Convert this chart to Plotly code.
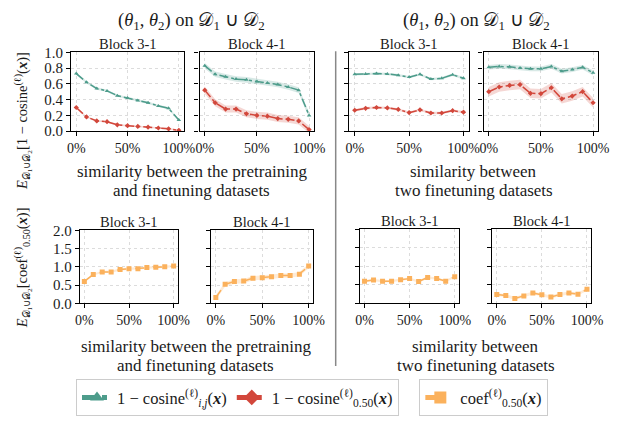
import plotly.graph_objects as go

W, H = 621, 423
x_pct = [0, 10, 20, 30, 40, 50, 60, 70, 80, 90, 100]

# top row: 1 - cosine
cos_ij_pre_b3 = [0.73, 0.62, 0.54, 0.51, 0.45, 0.42, 0.39, 0.36, 0.32, 0.29, 0.14]
cos_50_pre_b3 = [0.30, 0.18, 0.13, 0.12, 0.08, 0.07, 0.06, 0.05, 0.04, 0.03, 0.01]
cos_ij_pre_b4 = [0.83, 0.72, 0.69, 0.66, 0.65, 0.63, 0.61, 0.59, 0.56, 0.52, 0.20]
cos_50_pre_b4 = [0.52, 0.36, 0.28, 0.28, 0.22, 0.20, 0.19, 0.16, 0.15, 0.13, 0.02]
cos_ij_ft_b3 = [0.72, 0.725, 0.73, 0.725, 0.71, 0.685, 0.72, 0.66, 0.67, 0.715, 0.67]
cos_50_ft_b3 = [0.265, 0.29, 0.30, 0.295, 0.275, 0.235, 0.27, 0.23, 0.23, 0.26, 0.24]
cos_ij_ft_b4 = [0.81, 0.82, 0.815, 0.80, 0.79, 0.79, 0.82, 0.76, 0.78, 0.81, 0.74]
cos_50_ft_b4 = [0.50, 0.56, 0.58, 0.59, 0.48, 0.475, 0.55, 0.41, 0.445, 0.50, 0.36]

# bottom row: coef
coef_pre_b3 = [0.60, 0.79, 0.86, 0.86, 0.93, 0.95, 0.95, 0.98, 0.99, 1.00, 1.02]
coef_pre_b4 = [0.16, 0.52, 0.60, 0.61, 0.69, 0.70, 0.73, 0.76, 0.76, 0.80, 1.02]
coef_ft_b3 = [0.60, 0.63, 0.60, 0.60, 0.64, 0.67, 0.59, 0.70, 0.67, 0.60, 0.72]
coef_ft_b4 = [0.24, 0.21, 0.13, 0.20, 0.28, 0.23, 0.17, 0.24, 0.28, 0.25, 0.38]

# band half-widths
band_ij_pre_b3, band_50_pre_b3 = 0.015, 0.01
band_ij_pre_b4, band_50_pre_b4 = 0.035, 0.045
band_ij_ft_b3, band_50_ft_b3 = 0.015, 0.015
band_ij_ft_b4, band_50_ft_b4 = 0.03, 0.06
band_coef_pre_b3, band_coef_pre_b4 = 0.03, 0.06
band_coef_ft_b3, band_coef_ft_b4 = 0.03, 0.04

TEAL = "#4d9c8b"
RED = "#d2473b"
ORANGE = "#fbb15c"
TEAL_F = "rgba(77,156,139,0.22)"
RED_F = "rgba(210,71,59,0.22)"
ORANGE_F = "rgba(251,177,92,0.25)"

FONT = "Liberation Serif"

fig = go.Figure()

def py(p):
    return 1 - p / H

def px(p):
    return p / W

# panels: (axis index, x-domain px, y-domain px(top,bottom))
panels = [
    (1, (68, 184), (46, 128)),
    (2, (200, 318), (46, 128)),
    (3, (354, 477), (46, 128)),
    (4, (492, 610), (46, 128)),
    (5, (77, 178), (231, 307)),
    (6, (212, 317), (231, 307)),
    (7, (365, 467), (230, 307)),
    (8, (501, 603), (230, 307)),
]

def add_series(idx, y, band, color, fill, symbol, dash, name, legend, showleg, msize=4):
    xa = "x" if idx == 1 else f"x{idx}"
    ya = "y" if idx == 1 else f"y{idx}"
    up = [v + band for v in y]
    lo = [v - band for v in y]
    fig.add_trace(go.Scatter(x=x_pct, y=up, mode="lines", line=dict(width=0),
                             hoverinfo="skip", showlegend=False, xaxis=xa, yaxis=ya))
    fig.add_trace(go.Scatter(x=x_pct, y=lo, mode="lines", line=dict(width=0), fill="tonexty",
                             fillcolor=fill, hoverinfo="skip", showlegend=False, xaxis=xa, yaxis=ya))
    fig.add_trace(go.Scatter(x=x_pct, y=y, mode="lines+markers", name=name,
                             line=dict(color=color, width=1.5, dash=dash),
                             marker=dict(symbol=symbol, size=msize, color=color),
                             showlegend=showleg, legend=legend, xaxis=xa, yaxis=ya))

cos_name_ij = "1 − cosine<sup>(ℓ)</sup><sub><i>i,j</i></sub>(<b><i>x</i></b>)"
cos_name_50 = "1 − cosine<sup>(ℓ)</sup><sub>0.50</sub>(<b><i>x</i></b>)"
coef_name = "coef<sup>(ℓ)</sup><sub>0.50</sub>(<b><i>x</i></b>)"

top_data = [
    (1, cos_ij_pre_b3, band_ij_pre_b3, cos_50_pre_b3, band_50_pre_b3),
    (2, cos_ij_pre_b4, band_ij_pre_b4, cos_50_pre_b4, band_50_pre_b4),
    (3, cos_ij_ft_b3, band_ij_ft_b3, cos_50_ft_b3, band_50_ft_b3),
    (4, cos_ij_ft_b4, band_ij_ft_b4, cos_50_ft_b4, band_50_ft_b4),
]
for idx, yij, bij, y50, b50 in top_data:
    add_series(idx, yij, bij, TEAL, TEAL_F, "triangle-up", "dashdot", cos_name_ij, "legend", idx == 1)
    add_series(idx, y50, b50, RED, RED_F, "diamond", "dashdot", cos_name_50, "legend", idx == 1)

bot_data = [
    (5, coef_pre_b3, band_coef_pre_b3),
    (6, coef_pre_b4, band_coef_pre_b4),
    (7, coef_ft_b3, band_coef_ft_b3),
    (8, coef_ft_b4, band_coef_ft_b4),
]
for idx, yc, bc in bot_data:
    add_series(idx, yc, bc, ORANGE, ORANGE_F, "square", "dash", coef_name, "legend2", idx == 5, msize=5)

layout = {}
for idx, (x0, x1), (t, b) in panels:
    xk = "xaxis" if idx == 1 else f"xaxis{idx}"
    yk = "yaxis" if idx == 1 else f"yaxis{idx}"
    ya = "y" if idx == 1 else f"y{idx}"
    xa = "x" if idx == 1 else f"x{idx}"
    top_row = idx <= 4
    layout[xk] = dict(domain=[px(x0), px(x1)], anchor=ya, range=[-5, 105],
                      tickvals=[0, 50, 100], ticktext=["0%", "50%", "100%"],
                      showline=True, mirror=True, linecolor="black", linewidth=1.2,
                      ticks="outside", ticklen=4, tickcolor="black",
                      showgrid=True, gridcolor="#dcdcdc", griddash="dot", gridwidth=1,
                      zeroline=False, tickfont=dict(family=FONT, size=14, color="#1a1a1a"))
    layout[yk] = dict(domain=[py(b), py(t)], anchor=xa,
                      range=[0, 1.0] if top_row else [0, 2.0],
                      tickvals=[0, 0.2, 0.4, 0.6, 0.8, 1.0] if top_row else [0, 0.5, 1.0, 1.5, 2.0],
                      tickformat=".1f",
                      showticklabels=idx in (1, 5),
                      showline=True, mirror=True, linecolor="black", linewidth=1.2,
                      ticks="outside", ticklen=4, tickcolor="black",
                      showgrid=True, gridcolor="#dcdcdc", griddash="dot", gridwidth=1,
                      zeroline=False, tickfont=dict(family=FONT, size=15, color="#1a1a1a"))

annotations = []
def ann(text, x, y, size=14, angle=0):
    annotations.append(dict(text=text, x=px(x), y=py(y), xref="paper", yref="paper",
                            showarrow=False, xanchor="center", yanchor="middle",
                            textangle=angle, font=dict(family=FONT, size=size, color="#1a1a1a")))

group_title = "(<i>θ</i><sub>1</sub>, <i>θ</i><sub>2</sub>) on 𝒟<sub>1</sub> ∪ 𝒟<sub>2</sub>"
ann(group_title, 192, 14, 18.5)
ann(group_title, 485, 14, 18.5)

for idx, (x0, x1), (t, b) in panels:
    ann("Block 3-1" if idx % 2 == 1 else "Block 4-1", (x0 + x1) / 2, t - 9, 14.5)

ann("similarity between the pretraining", 192, 170, 17)
ann("and finetuning datasets", 192, 190, 17)
ann("similarity between", 482, 170, 17)
ann("two finetuning datasets", 482, 190, 17)
ann("similarity between the pretraining", 196, 352, 17)
ann("and finetuning datasets", 196, 372, 17)
ann("similarity between", 484, 352, 17)
ann("two finetuning datasets", 484, 372, 17)

ann("<i>E</i><sub>𝒟<sub>1</sub>∪𝒟<sub>2</sub></sub>[1 − cosine<sup>(ℓ)</sup>(<b><i>x</i></b>)]", 18, 118, 14.5, -90)
ann("<i>E</i><sub>𝒟<sub>1</sub>∪𝒟<sub>2</sub></sub>[coef<sup>(ℓ)</sup><sub>0.50</sub>(<b><i>x</i></b>)]", 18, 270, 14.5, -90)

fig.update_layout(
    width=W, height=H, margin=dict(l=0, r=0, t=0, b=0),
    paper_bgcolor="white", plot_bgcolor="white",
    annotations=annotations,
    shapes=[dict(type="line", xref="paper", yref="paper", x0=px(340), x1=px(340),
                 y0=py(45), y1=py(372), line=dict(color="#888888", width=1.5))],
    legend=dict(orientation="h", x=px(73), y=py(405), xanchor="left", yanchor="middle",
                bordercolor="#cccccc", borderwidth=1, bgcolor="white", traceorder="normal",
                font=dict(family=FONT, size=16.5, color="#1a1a1a"), itemwidth=30,
                itemsizing="constant", tracegroupgap=0),
    legend2=dict(orientation="h", x=px(426), y=py(405), xanchor="left", yanchor="middle",
                 bordercolor="#cccccc", borderwidth=1, bgcolor="white", traceorder="normal",
                 itemsizing="constant",
                 font=dict(family=FONT, size=16.5, color="#1a1a1a"), itemwidth=30),
    **layout,
)

fig.write_html("out.html")
